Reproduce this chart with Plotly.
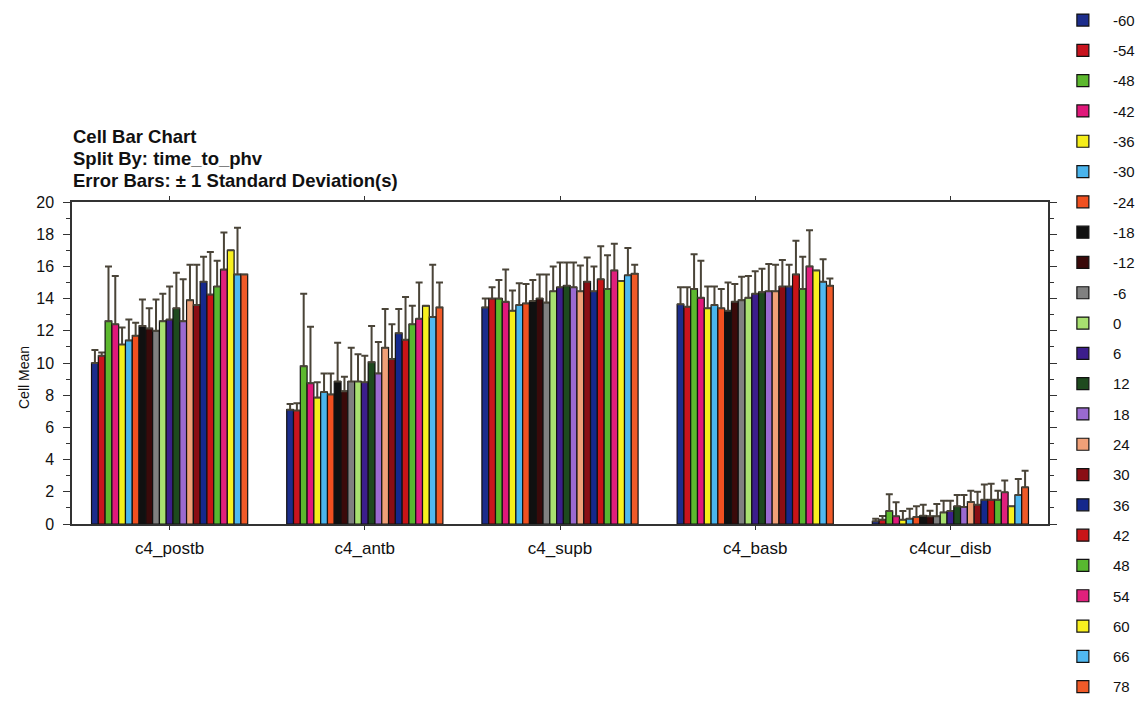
import plotly.graph_objects as go

categories = ["c4_postb", "c4_antb", "c4_supb", "c4_basb", "c4cur_disb"]
series_labels = ["-60", "-54", "-48", "-42", "-36", "-30", "-24", "-18", "-12", "-6", "0",
                 "6", "12", "18", "24", "30", "36", "42", "48", "54", "60", "66", "78"]
series_colors = ["#1c2d8c", "#c8141e", "#5cb82e", "#e0187a", "#f5ee1a", "#4ab4ec", "#f05020",
                 "#101010", "#3a0a0a", "#808080", "#a8e070", "#3c1e8c", "#1e4a1e", "#9a6ad0",
                 "#f0a078", "#8a0e14", "#14288c", "#c81418", "#58b830", "#e0207c", "#f8f020",
                 "#50b8f0", "#f05a28"]

# means per category (one value per time_to_phv level)
mean_postb = [10.0, 10.45, 12.6, 12.4, 11.15, 11.4, 11.7, 12.3, 12.15, 12.0, 12.6, 12.7,
              13.4, 12.6, 13.9, 13.6, 15.05, 14.25, 14.75, 15.8, 17.0, 15.5, 15.5]
mean_antb = [7.1, 7.05, 9.8, 8.75, 7.85, 8.2, 8.05, 8.85, 8.25, 8.85, 8.85, 8.8,
             10.05, 9.35, 10.95, 10.25, 11.85, 11.45, 12.4, 12.75, 13.55, 12.85, 13.45]
mean_supb = [13.45, 14.0, 14.0, 13.8, 13.25, 13.6, 13.7, 13.85, 14.0, 13.75, 14.45, 14.7,
             14.8, 14.7, 14.45, 15.05, 14.45, 15.2, 14.6, 15.75, 15.1, 15.45, 15.55]
mean_basb = [13.65, 13.5, 14.6, 14.05, 13.4, 13.6, 13.4, 13.25, 13.8, 13.9, 14.05, 14.3,
             14.4, 14.45, 14.45, 14.75, 14.75, 15.5, 14.6, 16.0, 15.75, 15.05, 14.8]
mean_disb = [0.17, 0.27, 0.8, 0.48, 0.27, 0.33, 0.43, 0.52, 0.48, 0.48, 0.72, 0.8,
             1.1, 1.05, 1.37, 1.2, 1.5, 1.5, 1.5, 1.97, 1.1, 1.8, 2.28]

# standard deviations (None = no error bar shown)
sd_postb = [0.8, 0.2, 3.4, 3.0, 1.05, 1.3, 0.8, 1.65, 1.25, 1.95, 1.7, 2.05,
            2.2, 2.6, 2.2, 2.5, 1.55, 2.65, 1.6, 2.3, None, 2.9, None]
sd_antb = [0.35, 0.45, 4.5, 3.5, 0.95, 1.15, 1.3, 2.4, 0.9, 2.1, 1.7, 1.65,
           2.25, 1.95, 2.4, 2.15, 1.5, 2.65, 1.15, 2.25, None, 3.25, 1.55]
sd_supb = [0.55, 0.7, 1.15, 2.0, 1.25, 1.35, 1.2, 1.3, 1.5, 1.75, 1.55, 1.55,
           1.45, 1.55, 1.6, 1.5, 1.55, 2.05, 2.1, 1.65, None, 1.7, 0.55]
sd_basb = [1.05, 1.2, 2.15, 2.3, 1.35, 1.15, 1.2, 1.75, 1.1, 1.45, 1.35, 1.4,
           1.45, 1.7, 1.65, 1.65, 1.35, 2.1, 2.0, 2.25, None, 1.4, 0.45]
sd_disb = [0.16, 0.23, 1.05, 0.87, 0.53, 0.62, 0.67, 0.68, 0.35, 0.77, 0.73, 0.65,
           0.7, 0.75, 0.7, 0.8, 0.95, 1.0, 0.57, 0.73, None, 1.0, 1.02]

means = [mean_postb, mean_antb, mean_supb, mean_basb, mean_disb]
sds = [sd_postb, sd_antb, sd_supb, sd_basb, sd_disb]

FONT = "Liberation Sans, Arial, sans-serif"

fig = go.Figure()
for i, (lab, col) in enumerate(zip(series_labels, series_colors)):
    y = [m[i] for m in means]
    e = [s[i] for s in sds]
    fig.add_trace(go.Bar(
        name=lab, x=categories, y=y,
        marker=dict(color=col, line=dict(color="#111", width=1.2)),
        error_y=dict(type="data", symmetric=False, array=e, arrayminus=[0] * len(e),
                     color="#4a4438", thickness=2, width=3.5),
        legendgroup=lab,
    ))

fig.update_layout(
    width=1141, height=713,
    margin=dict(l=72, r=93, t=202, b=189, autoexpand=False),
    paper_bgcolor="white", plot_bgcolor="white",
    barmode="group", bargap=0.2, bargroupgap=0,
    font=dict(family=FONT, color="#111"),
    showlegend=True,
    legend=dict(x=1.005, xanchor="left", y=1.6156, yanchor="top",
                font=dict(size=15, family=FONT, color="#111"),
                traceorder="grouped", tracegroupgap=7.8, maxheight=1,
                bgcolor="rgba(0,0,0,0)", itemwidth=50),
    xaxis=dict(showline=True, linecolor="#333", linewidth=1.5, mirror="allticks",
               ticks="outside", ticklen=4, tickcolor="#333",
               tickfont=dict(size=17, family=FONT, color="#111"),
               ticklabelstandoff=4, showgrid=False),
    yaxis=dict(range=[0, 20], dtick=2, showline=True, linecolor="#333", linewidth=1.5,
               mirror="allticks", ticks="outside", ticklen=7, tickcolor="#333",
               tickfont=dict(size=16, family=FONT, color="#111"),
               ticklabelstandoff=6, showgrid=False, zeroline=False,
               minor=dict(dtick=1, ticks="outside", ticklen=4, tickcolor="#333", showgrid=False)),
)

title_lines = ["Cell Bar Chart", "Split By: time_to_phv", "Error Bars: ± 1 Standard Deviation(s)"]
title_y_px = [136, 158, 181]
for txt, ypx in zip(title_lines, title_y_px):
    fig.add_annotation(text="<b>" + txt + "</b>", xref="paper", yref="paper",
                       x=(71 - 72) / 976, y=(524 - ypx) / 322, xanchor="left", yanchor="middle",
                       showarrow=False, font=dict(size=18.5, family=FONT, color="#111"))

fig.add_annotation(text="Cell Mean", xref="paper", yref="paper",
                   x=(24 - 72) / 976, y=(524 - 378) / 322, xanchor="center", yanchor="middle",
                   textangle=-90, showarrow=False, font=dict(size=14, family=FONT, color="#111"))

fig.write_html("out.html")
